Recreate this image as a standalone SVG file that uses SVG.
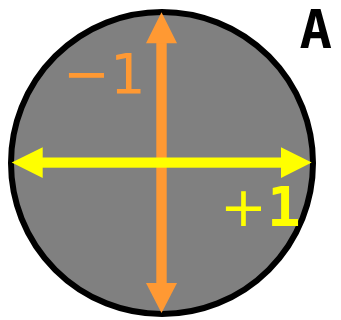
<svg xmlns="http://www.w3.org/2000/svg" width="341" height="320" viewBox="0 0 341 320">
<style>
.lbl{font-family:"DejaVu Sans",sans-serif;font-size:56px}
.orange{fill:#FF9933}
.yellow{fill:#FFFF00}
</style>
<rect width="341" height="320" fill="#FFFFFF"/>
<g id="circle">
<circle cx="162" cy="163" r="151" fill="#808080" stroke="#000000" stroke-width="6"/>
</g>
<g id="connectors">
<g id="vertical-arrow" class="orange">
<rect x="156.3" y="40" width="10.4" height="246"/>
<polygon points="161.5,12.3 146,43.3 177,43.3"/>
<polygon points="161.5,313 146,283 177,283"/>
</g>
<g id="horizontal-arrow" class="yellow">
<rect x="40" y="157.5" width="244" height="10.2"/>
<polygon points="11.7,162.6 42.7,147.3 42.7,178"/>
<polygon points="311.7,162.6 281,147.3 281,178"/>
</g>
</g>
<g id="labels">
<text class="lbl orange" x="63" y="93">−1</text>
<text class="lbl yellow" x="220" y="225.5">+<tspan font-family="DejaVu Sans Mono, monospace" font-weight="bold">1</tspan></text>
<text x="299.5" y="48" font-family="DejaVu Sans Mono, monospace" font-size="54" font-weight="bold" fill="#000000">A</text>
</g>
</svg>
